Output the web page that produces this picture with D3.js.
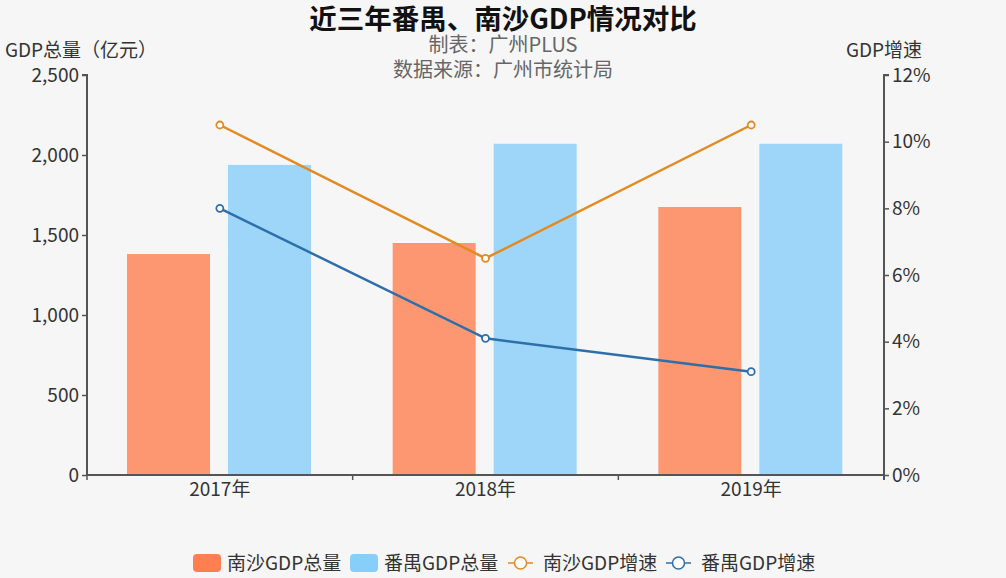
<!DOCTYPE html>
<html><head><meta charset="utf-8">
<script src="https://cdn.jsdelivr.net/npm/d3@7/dist/d3.min.js"></script>
<style>
body{margin:0;background:#f6f6f6;}
svg{display:block;font-family:"Noto Sans CJK SC","Noto Sans",sans-serif;}
</style></head><body>
<svg id="c" width="1006" height="578"></svg>
<script>
const years = ["2017年","2018年","2019年"];
const nanshaGDP = [1381, 1450, 1675];
const panyuGDP = [1938, 2070, 2070];
const nanshaGrowth = [10.5, 6.5, 10.5];
const panyuGrowth = [8.0, 4.1, 3.1];
const leftTicks = [0, 500, 1000, 1500, 2000, 2500];
const rightTicks = [0, 2, 4, 6, 8, 10, 12];
const seriesNames = ["南沙GDP总量","番禺GDP总量","南沙GDP增速","番禺GDP增速"];

const svg = d3.select("#c");
const W = 1006, H = 578;
const m = {l:87, r:884, t:75, b:475};
const axisCol = "#555", textCol = "#333";
const cCoral = "#ff7f50", cSky = "#87cefa", cOrange = "#e38a22", cBlue = "#2e6fab";
const FS = 19;

svg.append("rect").attr("width",W).attr("height",H).attr("fill","#f6f6f6");

const x = d3.scaleBand().domain(years).range([m.l, m.r]);
const yL = d3.scaleLinear().domain([0,2500]).range([m.b, m.t]);
const yR = d3.scaleLinear().domain([0,12]).range([m.b, m.t]);

// titles
svg.append("text").attr("x",503).attr("y",29).attr("text-anchor","middle")
  .attr("font-size",27.5).attr("font-weight","bold").attr("fill","#111").text("近三年番禺、南沙GDP情况对比");
svg.append("text").attr("x",503).attr("y",52).attr("text-anchor","middle")
  .attr("font-size",20).attr("fill","#666").text("制表：广州PLUS");
svg.append("text").attr("x",503).attr("y",77).attr("text-anchor","middle")
  .attr("font-size",20).attr("fill","#666").text("数据来源：广州市统计局");
svg.append("text").attr("x",81).attr("y",57).attr("text-anchor","middle")
  .attr("font-size",FS).attr("fill",textCol).text("GDP总量（亿元）");
svg.append("text").attr("x",884).attr("y",57).attr("text-anchor","middle")
  .attr("font-size",FS).attr("fill",textCol).text("GDP增速");

// bars
const bw = 83, outer = 40, gap = 18;
const g = svg.append("g");
years.forEach((yr,i)=>{
  const x0 = x(yr);
  g.append("rect").attr("x",x0+outer).attr("y",yL(nanshaGDP[i]))
    .attr("width",bw).attr("height",yL(0)-yL(nanshaGDP[i]))
    .attr("fill",cCoral).attr("fill-opacity",0.8);
  g.append("rect").attr("x",x0+outer+bw+gap).attr("y",yL(panyuGDP[i]))
    .attr("width",bw).attr("height",yL(0)-yL(panyuGDP[i]))
    .attr("fill",cSky).attr("fill-opacity",0.8);
});

// axes
const fmt = d3.format(",");
const left = svg.append("g").attr("transform",`translate(${m.l},0)`)
  .call(d3.axisLeft(yL).tickValues(leftTicks).tickFormat(fmt).tickSize(5).tickPadding(3));
const right = svg.append("g").attr("transform",`translate(${m.r},0)`)
  .call(d3.axisRight(yR).tickValues(rightTicks).tickFormat(d=>d+"%").tickSize(5).tickPadding(3));
const bottom = svg.append("g").attr("transform",`translate(0,${m.b})`)
  .call(d3.axisBottom(x).tickSize(0).tickPadding(7));
const bounds = [m.l, ...years.slice(1).map(y=>x(y)), m.r];
bottom.selectAll(".bt").data(bounds).enter().append("line")
  .attr("x1",d=>d).attr("x2",d=>d).attr("y1",0).attr("y2",5).attr("stroke",axisCol).attr("stroke-width",1.5);
[left,right,bottom].forEach(a=>{
  a.select(".domain").attr("stroke",axisCol).attr("stroke-width",2);
  a.selectAll(".tick line").attr("stroke",axisCol).attr("stroke-width",1.5);
  a.selectAll(".tick text").attr("font-size",FS).attr("fill",textCol).attr("font-family","Noto Sans CJK SC");
});
left.select(".domain").attr("d",`M-5,${m.t}H0V${m.b}`);
right.select(".domain").attr("d",`M5,${m.t}H0V${m.b+5}`);
bottom.select(".domain").attr("d",`M${m.l},0H${m.r}`);

// lines
const line = d3.line().x((d,i)=>x(years[i])+x.bandwidth()/2).y(d=>yR(d));
[[nanshaGrowth,cOrange],[panyuGrowth,cBlue]].forEach(([data,col])=>{
  svg.append("path").datum(data).attr("d",line).attr("fill","none").attr("stroke",col).attr("stroke-width",2.5);
  svg.selectAll(null).data(data).enter().append("circle")
    .attr("cx",(d,i)=>x(years[i])+x.bandwidth()/2).attr("cy",d=>yR(d)).attr("r",3.5)
    .attr("fill","#fff").attr("stroke",col).attr("stroke-width",1.8);
});

// legend
const lg = svg.append("g").attr("font-size",FS).attr("fill",textCol);
const items = [
  {name:seriesNames[0], type:"rect", col:cCoral, x:193},
  {name:seriesNames[1], type:"rect", col:cSky, x:350},
  {name:seriesNames[2], type:"line", col:cOrange, x:508},
  {name:seriesNames[3], type:"line", col:cBlue, x:666},
];
const ly = 563;
items.forEach(it=>{
  if(it.type==="rect"){
    lg.append("rect").attr("x",it.x).attr("y",ly-9).attr("width",28).attr("height",18).attr("rx",4).attr("fill",it.col);
  } else {
    lg.append("line").attr("x1",it.x).attr("x2",it.x+25).attr("y1",ly).attr("y2",ly).attr("stroke",it.col).attr("stroke-width",1.5);
    lg.append("circle").attr("cx",it.x+12.5).attr("cy",ly).attr("r",6).attr("fill","#fff").attr("stroke",it.col).attr("stroke-width",1.5);
  }
  lg.append("text").attr("x",it.x+(it.type==="rect"?34:35)).attr("y",ly+7).attr("fill",textCol).text(it.name);
});
</script>
</body></html>
